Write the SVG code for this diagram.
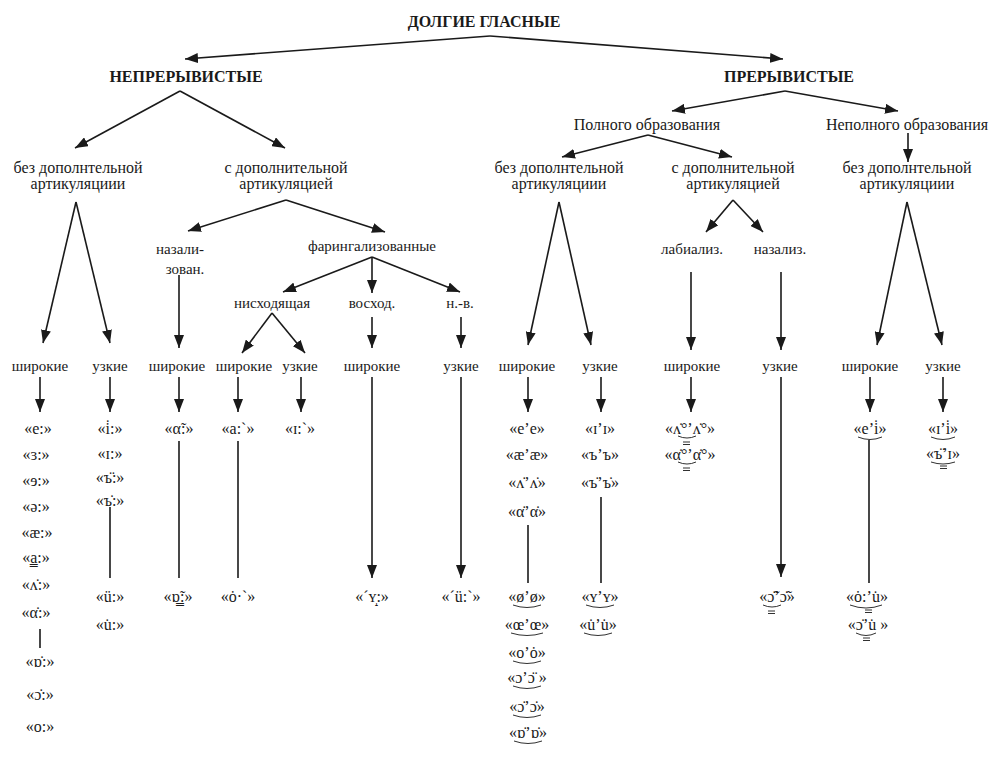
<svg xmlns="http://www.w3.org/2000/svg" width="995" height="757" viewBox="0 0 995 757" font-family="'Liberation Serif', 'Times New Roman', Times, 'DejaVu Serif', serif">
<style>
text{fill:#1a1a1a;text-anchor:middle}
.h{font-size:16px;font-weight:bold}
.l{font-size:16px}
.s{font-size:15px}
.v{font-size:16px}
.c line{stroke:#1a1a1a;stroke-width:1.6}
.a{marker-end:url(#ah)}
.t{fill:none;stroke:#1a1a1a;stroke-width:0.9}
</style>
<defs>
<marker id="ah" markerUnits="userSpaceOnUse" markerWidth="14" markerHeight="10" refX="13" refY="5" orient="auto">
<path d="M0,0 L13,5 L0,10 z" fill="#1a1a1a"/>
</marker>
</defs>
<rect width="995" height="757" fill="#fff"/>
<g class="c" id="connectors">
<line class="a" x1="490" y1="36" x2="185" y2="59"/>
<line class="a" x1="490" y1="36" x2="783" y2="59"/>
<line class="a" x1="180" y1="91" x2="75" y2="148"/>
<line class="a" x1="180" y1="91" x2="285" y2="148"/>
<line class="a" x1="76" y1="202" x2="43" y2="343"/>
<line class="a" x1="76" y1="202" x2="110" y2="343"/>
<line class="a" x1="40" y1="377" x2="40" y2="412"/>
<line class="a" x1="110" y1="377" x2="110" y2="412"/>
<line x1="40" y1="629" x2="40" y2="648"/>
<line x1="110" y1="507" x2="110" y2="578"/>
<line class="a" x1="286" y1="200" x2="188" y2="231"/>
<line class="a" x1="286" y1="200" x2="385" y2="232"/>
<line class="a" x1="179" y1="275" x2="179" y2="348"/>
<line class="a" x1="179" y1="377" x2="179" y2="412"/>
<line x1="179" y1="441" x2="179" y2="578"/>
<line class="a" x1="372" y1="257" x2="283" y2="292"/>
<line class="a" x1="372" y1="257" x2="372" y2="293"/>
<line class="a" x1="372" y1="257" x2="460" y2="292"/>
<line class="a" x1="272" y1="313" x2="242" y2="353"/>
<line class="a" x1="272" y1="313" x2="305" y2="353"/>
<line class="a" x1="238" y1="377" x2="238" y2="412"/>
<line class="a" x1="301" y1="377" x2="301" y2="412"/>
<line x1="238" y1="441" x2="238" y2="578"/>
<line class="a" x1="372" y1="317" x2="372" y2="348"/>
<line class="a" x1="372" y1="377" x2="372" y2="578"/>
<line class="a" x1="461" y1="317" x2="461" y2="348"/>
<line class="a" x1="461" y1="377" x2="461" y2="578"/>
<line class="a" x1="785" y1="91" x2="672" y2="111"/>
<line class="a" x1="785" y1="91" x2="898" y2="111"/>
<line class="a" x1="648" y1="135" x2="562" y2="157"/>
<line class="a" x1="648" y1="135" x2="732" y2="157"/>
<line class="a" x1="908" y1="133" x2="908" y2="162"/>
<line class="a" x1="559" y1="202" x2="528" y2="345"/>
<line class="a" x1="559" y1="202" x2="591" y2="345"/>
<line class="a" x1="528" y1="377" x2="528" y2="412"/>
<line class="a" x1="601" y1="377" x2="601" y2="412"/>
<line x1="528" y1="525" x2="528" y2="583"/>
<line x1="601" y1="497" x2="601" y2="583"/>
<line class="a" x1="733" y1="200" x2="706" y2="232"/>
<line class="a" x1="733" y1="200" x2="763" y2="232"/>
<line class="a" x1="691" y1="272" x2="691" y2="350"/>
<line class="a" x1="781" y1="272" x2="781" y2="350"/>
<line class="a" x1="691" y1="377" x2="691" y2="412"/>
<line class="a" x1="781" y1="377" x2="781" y2="577"/>
<line class="a" x1="907" y1="202" x2="877" y2="345"/>
<line class="a" x1="907" y1="202" x2="942" y2="345"/>
<line class="a" x1="870" y1="377" x2="870" y2="412"/>
<line class="a" x1="943" y1="377" x2="943" y2="412"/>
<line x1="869" y1="440" x2="869" y2="583"/>
</g>
<g id="root"><text class="h" x="484" y="27">ДОЛГИЕ ГЛАСНЫЕ</text></g>
<g id="nepreryv"><text class="h" x="186" y="82">НЕПРЕРЫВИСТЫЕ</text></g>
<g id="preryv"><text class="h" x="789" y="82">ПРЕРЫВИСТЫЕ</text></g>
<g id="l-bez"><text class="l" x="78" y="173">без дополнтельной</text><text class="l" x="78" y="189">артикуляциии</text></g>
<g id="l-s"><text class="l" x="286" y="173">с дополнительной</text><text class="l" x="286" y="189">артикуляцией</text></g>
<g id="polnogo"><text class="l" x="647" y="130">Полного образования</text></g>
<g id="nepolnogo"><text class="l" x="907" y="130">Неполного образования</text></g>
<g id="r-bez1"><text class="l" x="559" y="173">без дополнтельной</text><text class="l" x="559" y="189">артикуляциии</text></g>
<g id="r-s"><text class="l" x="733" y="173">с дополнительной</text><text class="l" x="733" y="189">артикуляцией</text></g>
<g id="r-bez2"><text class="l" x="907" y="173">без дополнтельной</text><text class="l" x="907" y="189">артикуляциии</text></g>
<g id="nazal"><text class="s" x="180" y="254">назали-</text><text class="s" x="185" y="274">зован.</text></g>
<g id="faring"><text class="s" x="372" y="251">фарингализованные</text></g>
<g id="nishod"><text class="s" x="272" y="308">нисходящая</text></g>
<g id="voshod"><text class="s" x="372" y="308">восход.</text></g>
<g id="nv"><text class="s" x="460" y="308">н.-в.</text></g>
<g id="labial"><text class="s" x="692" y="254">лабиализ.</text></g>
<g id="nazaliz"><text class="s" x="780" y="254">назализ.</text></g>
<g id="w1"><text class="s" x="40" y="371">широкие</text></g>
<g id="n1"><text class="s" x="110" y="371">узкие</text></g>
<g id="w2"><text class="s" x="177" y="371">широкие</text></g>
<g id="w3"><text class="s" x="244" y="371">широкие</text></g>
<g id="n3"><text class="s" x="300" y="371">узкие</text></g>
<g id="w4"><text class="s" x="372" y="371">широкие</text></g>
<g id="n4"><text class="s" x="461" y="371">узкие</text></g>
<g id="w5"><text class="s" x="527" y="371">широкие</text></g>
<g id="n5"><text class="s" x="600" y="371">узкие</text></g>
<g id="w6"><text class="s" x="692" y="371">широкие</text></g>
<g id="n6"><text class="s" x="780" y="371">узкие</text></g>
<g id="w7"><text class="s" x="870" y="371">широкие</text></g>
<g id="n7"><text class="s" x="943" y="371">узкие</text></g>
<g id="list1">
<text class="v" x="38" y="434">«e:»</text>
<text class="v" x="36" y="460">«ɜ:»</text>
<text class="v" x="36" y="486">«ɘ:»</text>
<text class="v" x="36" y="512">«ə:»</text>
<text class="v" x="37" y="538">«æ:»</text>
<text class="v" x="36" y="563">«a̳:»</text>
<text class="v" x="36" y="590">«ʌ̇:»</text>
<text class="v" x="36" y="618">«α̇:»</text>
<text class="v" x="40" y="667">«ɒ̇:»</text>
<text class="v" x="40" y="700">«ɔ̇:»</text>
<text class="v" x="40" y="732">«o:»</text>
</g>
<g id="list2">
<text class="v" x="110" y="434">«i̇:»</text>
<text class="v" x="110" y="459">«ɪ:»</text>
<text class="v" x="110" y="483">«ъ̈:»</text>
<text class="v" x="110" y="506">«ъ̇:»</text>
<text class="v" x="110" y="602">«ü:»</text>
<text class="v" x="110" y="630">«u̇:»</text>
</g>
<g id="list3">
<text class="v" x="179" y="434">«α̃:»</text>
<text class="v" x="178" y="602">«ɒ̳̃:»</text>
</g>
<g id="list4">
<text class="v" x="238" y="434">«a:ˋ»</text>
<text class="v" x="238" y="602">«ȯ·ˋ»</text>
</g>
<g id="list5"><text class="v" x="300" y="434">«ɪ:ˋ»</text></g>
<g id="list6"><text class="v" x="372" y="602">«ˊʏ̝:»</text></g>
<g id="list7"><text class="v" x="461" y="602">«ˊü:ˋ»</text></g>
<g id="list8">
<text class="v" x="527" y="434">«e’e»</text>
<text class="v" x="527" y="460">«æ’æ»</text>
<text class="v" x="527" y="488">«ʌ̇’ʌ̇»</text>
<text class="v" x="527" y="517">«α̇’α̇»</text>
<text class="v" x="527" y="602">«ø’ø»</text>
<text class="v" x="527" y="630">«œ’œ»</text>
<text class="v" x="527" y="658">«o’ȯ»</text>
<text class="v" x="527" y="683">«ɔ’ɔ̈ »</text>
<text class="v" x="527" y="712">«ɔ̇’ɔ̇»</text>
<text class="v" x="528" y="738">«ɒ̇’ɒ̇»</text>
<path class="t" d="M513,605 Q527,610 541,605 M511,633 Q527,638 543,633 M513,661 Q527,666 541,661 M513,686 Q527,691 541,686 M513,715 Q527,720 541,715 M514,741 Q528,746 542,741"/>
</g>
<g id="list9">
<text class="v" x="600" y="434">«ɪ’ɪ»</text>
<text class="v" x="600" y="460">«ъ’ъ»</text>
<text class="v" x="600" y="488">«ъ̇’ъ̇»</text>
<text class="v" x="600" y="602">«ʏ’ʏ»</text>
<text class="v" x="598" y="630">«u̇’u̇»</text>
<path class="t" d="M586,605 Q600,610 614,605 M584,633 Q598,638 612,633"/>
</g>
<g id="list10">
<text class="v" x="690" y="434">«ʌ̇°’ʌ̇°»</text>
<text class="v" x="690" y="460">«α̇°’α̇°»</text>
<path class="t" d="M678,436 Q687,440 696,436 M683,442 h7 M683,444.5 h7 M678,462 Q687,466 696,462 M683,468 h7 M683,470.5 h7"/>
</g>
<g id="list11">
<text class="v" x="777" y="602">«ɔ̇̃’ɔ̇̃»</text>
<path class="t" d="M763,605 Q772,609 781,605 M768,611 h7 M768,613.5 h7"/>
</g>
<g id="list12">
<text class="v" x="870" y="434">«e’i̇»</text>
<text class="v" x="867" y="602">«ȯ:’u̇»</text>
<text class="v" x="868" y="630">«ɔ̇’u̇ »</text>
<path class="t" d="M858,437 Q870,442 882,437 M850,605 Q866,611 882,605 M865,610 h7 M865,612.5 h7 M856,633 Q866,638 876,633 M863,638 h7 M863,640.5 h7"/>
</g>
<g id="list13">
<text class="v" x="943" y="434">«ɪ’i̇»</text>
<text class="v" x="943" y="459">«ъ̈’ɪ»</text>
<path class="t" d="M931,437 Q943,442 955,437 M931,462 Q943,466 955,462 M940,466 h7 M940,468.5 h7"/>
</g>
</svg>
